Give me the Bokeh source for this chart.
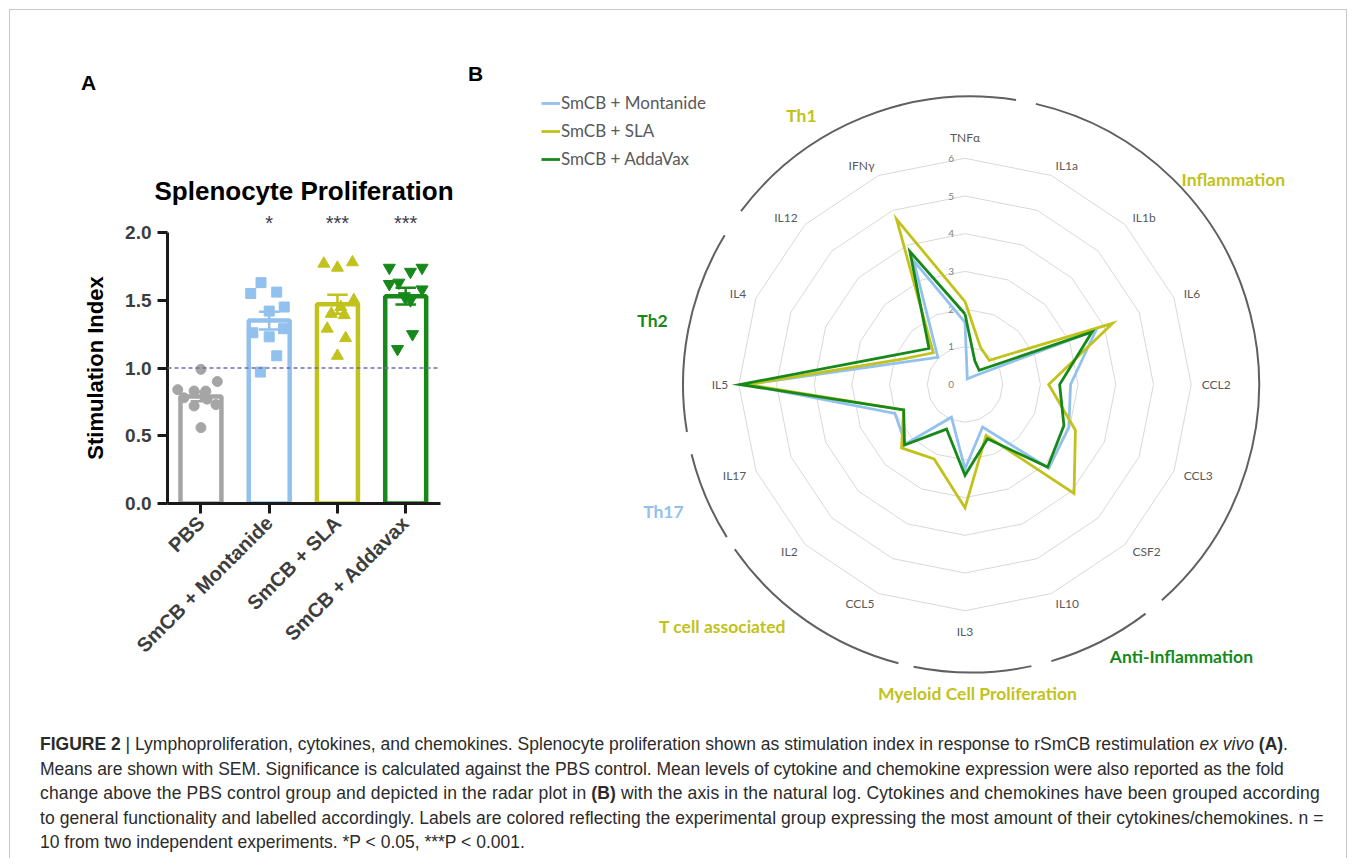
import numpy as np
from bokeh.plotting import figure
from bokeh.models import (Range1d, FixedTicker, PrintfTickFormatter, Span, Label,
                          Legend, LegendItem, Div, LinearAxis, Title)
from bokeh.layouts import row, column
from bokeh.embed import file_html
from bokeh.resources import INLINE
from bokeh.core.properties import value

# ---------------- Panel A data ----------------
groups = ["PBS", "SmCB + Montanide", "SmCB + SLA", "SmCB + Addavax"]
means = [0.79, 1.35, 1.47, 1.53]
sems = [0.035, 0.065, 0.07, 0.062]
pbs_vals = [0.99, 0.90, 0.84, 0.83, 0.83, 0.78, 0.77, 0.72, 0.73, 0.56]
pbs_jit = [0.0, 0.24, -0.34, -0.10, 0.07, -0.25, 0.09, -0.10, 0.22, 0.0]
mont_vals = [1.63, 1.55, 1.56, 1.45, 1.42, 1.29, 1.26, 1.23, 1.09, 0.97]
mont_jit = [-0.12, -0.27, 0.11, 0.22, 0.0, 0.21, -0.24, 0.0, 0.11, -0.13]
sla_vals = [1.77, 1.78, 1.74, 1.50, 1.45, 1.40, 1.39, 1.29, 1.22, 1.09]
sla_jit = [-0.20, 0.22, 0.0, 0.24, 0.05, -0.09, 0.10, -0.15, 0.12, 0.0]
adda_vals = [1.74, 1.71, 1.74, 1.62, 1.63, 1.58, 1.53, 1.50, 1.25, 1.14]
adda_jit = [-0.24, 0.07, 0.24, -0.24, -0.10, 0.24, -0.02, 0.07, 0.10, -0.12]
signif = ["", "*", "***", "***"]
y_ticks = [0.0, 0.5, 1.0, 1.5, 2.0]

# ---------------- Panel B data ----------------
radar_cats = ["TNFα", "IL1a", "IL1b", "IL6", "CCL2", "CCL3", "CSF2", "IL10",
              "IL3", "CCL5", "IL2", "IL17", "IL5", "IL4", "IL12", "IFNγ"]
montanide = [1.65, 0.16, 0.30, 3.76, 2.80, 2.98, 3.14, 1.22, 2.24, 0.94, 2.23, 2.01, 5.80, 1.60, 1.02, 3.56]
sla = [2.20, 1.07, 0.91, 4.24, 2.22, 3.17, 4.09, 1.46, 3.27, 2.14, 2.38, 1.76, 5.78, 1.77, 1.19, 4.74]
addavax = [1.87, 0.68, 0.53, 3.65, 2.51, 2.84, 3.10, 1.56, 2.41, 1.28, 2.27, 1.76, 5.97, 2.03, 1.35, 3.82]
radar_series = ["SmCB + Montanide", "SmCB + SLA", "SmCB + AddaVax"]
radar_ticks = [0, 1, 2, 3, 4, 5, 6]

group_names = ["Th1", "Inflammation", "Anti-Inflammation", "Myeloid Cell Proliferation",
               "T cell associated", "Th17", "Th2"]
group_start = [307.0, 13.0, 142.7, 167.9, 194.6, 238.0, 260.5]   # compass degrees
group_end = [369.0, 138.5, 163.8, 191.5, 235.1, 256.0, 301.2]
group_label_x = [-4.34, 7.12, 5.74, 0.33, -6.43, -8.00, -8.29]
group_label_y = [7.14, 5.44, -7.21, -8.20, -6.42, -3.37, 1.70]

# ---------------- colours ----------------
GRAY = "#a5a5a5"
BLUE = "#92c1ee"
YEL = "#c2c21c"
GRN = "#16891a"
a_colors = [GRAY, BLUE, YEL, GRN]
radar_colors = [BLUE, YEL, GRN]
group_colors = [YEL, YEL, GRN, YEL, YEL, BLUE, GRN]
TXT = "#595959"
AF = "Liberation Sans"

# ---------------- page geometry ----------------
OX, OY = 10, 10           # content origin on the page
WA, HT = 454, 708
WB = 1336 - WA
HA_TOP = 100              # strip above panel A holding the panel letter
HA = HT - HA_TOP

# ================= Panel A =================
FL, FT, FW, FH = 167 - OX, 232 - OY - HA_TOP, 273, 271
pa = figure(width=WA, height=HA, output_backend="svg", toolbar_location=None,
            x_range=Range1d(-0.49, 3.51), y_range=Range1d(0, 2.0),
            min_border_left=FL, min_border_right=WA - FL - FW,
            min_border_top=FT, min_border_bottom=HA - FT - FH)
pa.outline_line_color = None
pa.grid.visible = False

xs = list(range(len(groups)))
pa.vbar(x=xs, top=means, width=0.6, bottom=0, fill_color="white",
        line_color=a_colors, line_width=4.5)

markers = ["circle", "square", "triangle", "inverted_triangle"]
vals_all = [pbs_vals, mont_vals, sla_vals, adda_vals]
jit_all = [pbs_jit, mont_jit, sla_jit, adda_jit]
sizes = [10, 10, 12, 12]
for i in range(4):
    pa.scatter(x=[i + j for j in jit_all[i]], y=vals_all[i], marker=markers[i],
               size=sizes[i], fill_color=a_colors[i], line_color=a_colors[i])

lo = [m - s for m, s in zip(means, sems)]
hi = [m + s for m, s in zip(means, sems)]
pa.segment(x0=xs, y0=lo, x1=xs, y1=hi, line_color=a_colors, line_width=2.5)
pa.segment(x0=[x - 0.15 for x in xs], y0=hi, x1=[x + 0.15 for x in xs], y1=hi,
           line_color=a_colors, line_width=2.5)
pa.segment(x0=[x - 0.15 for x in xs], y0=lo, x1=[x + 0.15 for x in xs], y1=lo,
           line_color=a_colors, line_width=2.5)

pa.add_layout(Span(location=1.0, dimension="width", line_color="#6d6db3",
                   line_dash="4 3", line_width=1.5))

for ax in (pa.xaxis[0], pa.yaxis[0]):
    ax.axis_line_width = 3
    ax.axis_line_color = "#1a1a1a"
    ax.major_tick_line_width = 3
    ax.major_tick_line_color = "#1a1a1a"
    ax.major_tick_out = 10
    ax.major_tick_in = 0
    ax.minor_tick_line_color = None
    ax.major_label_text_font = AF
    ax.major_label_text_font_style = "bold"
    ax.major_label_text_color = "#3d3d3d"

pa.yaxis.ticker = FixedTicker(ticks=y_ticks)
pa.yaxis.formatter = PrintfTickFormatter(format="%.1f")
pa.yaxis.major_label_text_font_size = "19px"
pa.yaxis.major_label_standoff = 6
pa.yaxis.axis_label = "Stimulation Index"
pa.yaxis.axis_label_text_font = AF
pa.yaxis.axis_label_text_font_style = "bold"
pa.yaxis.axis_label_text_font_size = "22px"
pa.yaxis.axis_label_text_color = "black"
pa.yaxis.axis_label_standoff = 14

pa.xaxis.ticker = FixedTicker(ticks=xs)
pa.xaxis.major_label_overrides = {i: g for i, g in enumerate(groups)}
pa.xaxis.major_label_orientation = np.pi / 4
pa.xaxis.major_label_text_font_size = "20px"
pa.xaxis.major_label_standoff = 6

# significance stars as an axis above the bars
star_ticks = [i for i, s in enumerate(signif) if s]
star_axis = LinearAxis(ticker=FixedTicker(ticks=star_ticks),
                       major_label_overrides={i: signif[i] for i in star_ticks},
                       axis_line_color=None, major_tick_line_color=None,
                       minor_tick_line_color=None, major_tick_out=0, major_tick_in=0,
                       major_label_standoff=-1, major_label_text_font=AF,
                       major_label_text_font_size="20px", major_label_text_color="#3b3b4e")
pa.add_layout(star_axis, "above")

pa.add_layout(Title(text="Splenocyte Proliferation", align="center",
                    standoff=6, text_font=AF, text_font_size="26px",
                    text_font_style="bold", text_color="black"), "above")

letter_a = Div(text='<div style="font-family:\'Liberation Sans\',Arial,sans-serif;'
                    'font-weight:bold;font-size:21px;line-height:24px;color:black;'
                    'padding:61px 0 0 71px;">A</div>',
               width=WA, height=HA_TOP, margin=0)

# ================= Panel B =================
S = 37.7                                   # pixels per radar unit
cxp, cyp = 964.5 - (OX + WA), 384 - OY     # radar centre inside figure (px)
pb = figure(width=WB, height=HT, output_backend="svg", toolbar_location=None,
            x_range=Range1d(-cxp / S, (WB - cxp) / S),
            y_range=Range1d((cyp - HT) / S, cyp / S),
            x_axis_type=None, y_axis_type=None,
            min_border=0, min_border_left=0, min_border_right=0,
            min_border_top=0, min_border_bottom=0)
pb.outline_line_color = None
pb.grid.visible = False

n = len(radar_cats)
ang = np.deg2rad(np.arange(n) * 360.0 / n)
sa, ca = np.sin(ang), np.cos(ang)

ring_xs = [list(np.append(k * sa, k * sa[0])) for k in radar_ticks[1:]]
ring_ys = [list(np.append(k * ca, k * ca[0])) for k in radar_ticks[1:]]
pb.multi_line(xs=ring_xs, ys=ring_ys, line_color="#d9d9d9", line_width=1)

pb.text(x=[-0.37] * len(radar_ticks), y=radar_ticks, text=[str(t) for t in radar_ticks],
        text_align="center", text_baseline="middle", text_font=value("Lato"),
        text_font_size="10px", text_color="#7f7f7f")

# category labels: anchored by their edge nearest the chart
lab_r_side, lab_r_pole = 6.28, 6.35
for sel, align, base, rr in [
        (sa > 0.01, "left", "middle", lab_r_side),
        (sa < -0.01, "right", "middle", lab_r_side),
        ((np.abs(sa) <= 0.01) & (ca > 0), "center", "bottom", lab_r_pole),
        ((np.abs(sa) <= 0.01) & (ca < 0), "center", "top", lab_r_pole)]:
    idx = np.where(sel)[0]
    pb.text(x=list(rr * sa[idx]), y=list(rr * ca[idx]),
            text=[radar_cats[k] for k in idx], text_align=align, text_baseline=base,
            text_font=value("Lato"), text_font_size="12px", text_color=TXT)

rends = []
for vals, col in zip([montanide, sla, addavax], radar_colors):
    r = np.asarray(vals, float)
    x = np.append(r * sa, r[0] * sa[0])
    y = np.append(r * ca, r[0] * ca[0])
    rends.append(pb.line(x=list(x), y=list(y), line_color=col, line_width=2.8,
                         line_join="miter"))

arc_cx, arc_r = 0.16, 7.64
pb.arc(x=[arc_cx] * len(group_names), y=[0] * len(group_names), radius=arc_r,
       start_angle=[np.deg2rad(90 - s) for s in group_start],
       end_angle=[np.deg2rad(90 - e) for e in group_end],
       direction="clock", line_color="#606060", line_width=2)

pb.text(x=group_label_x, y=group_label_y, text=group_names, text_color=group_colors,
        text_align="center", text_baseline="middle", text_font=value("Lato"),
        text_font_size="17.5px", text_font_style="bold")

pb.add_layout(Label(x=(475 - 964.5) / S, y=(384 - 73) / S, text="B",
                    text_align="center", text_baseline="middle", text_font=AF,
                    text_font_size="21px", text_font_style="bold", text_color="black"))

legend = Legend(items=[LegendItem(label=lab, renderers=[rr]) for lab, rr in zip(radar_series, rends)],
                location=(541 - (OX + WA), HT - (95 - OY) - 74),
                padding=0, margin=0, spacing=7, glyph_width=19, glyph_height=20,
                label_height=20, label_standoff=1, border_line_color=None,
                background_fill_alpha=0, label_text_font="Lato",
                label_text_font_size="17px", label_text_color=TXT)
pb.add_layout(legend)

# ================= Caption =================
cap_lines = [
    ('0px', '<b>FIGURE 2</b> | Lymphoproliferation, cytokines, and chemokines. Splenocyte proliferation '
            'shown as stimulation index in response to rSmCB restimulation <i>ex vivo</i> <b>(A)</b>.'),
    ('-0.04px', 'Means are shown with SEM. Significance is calculated against the PBS control. Mean levels of '
                'cytokine and chemokine expression were also reported as the fold'),
    ('0.15px', 'change above the PBS control group and depicted in the radar plot in <b>(B)</b> with the axis '
               'in the natural log. Cytokines and chemokines have been grouped according'),
    ('0.06px', 'to general functionality and labelled accordingly. Labels are colored reflecting the '
               'experimental group expressing the most amount of their cytokines/chemokines. n ='),
    ('0px', '10 from two independent experiments. *P &lt; 0.05, ***P &lt; 0.001.'),
]
cap = ('<div style="font-family:\'Liberation Sans\',Arial,sans-serif;font-size:17.5px;'
       'line-height:24.5px;color:#2b2b2b;padding:14px 0 0 30px;white-space:nowrap;">'
       + '<br>'.join('<span style="letter-spacing:%s">%s</span>' % (ls, t) for ls, t in cap_lines)
       + '</div>')
caption = Div(text=cap, width=1336, height=140, margin=0)

layout = column(row(column(letter_a, pa, spacing=0), column(pb), spacing=0), caption, spacing=0,
                margin=(9, 0, 0, 9),
                styles={"border-top": "1px solid #c8c8c8", "border-left": "1px solid #c8c8c8",
                        "border-right": "1px solid #c8c8c8"})

open("out.html", "w").write(file_html(layout, INLINE))
